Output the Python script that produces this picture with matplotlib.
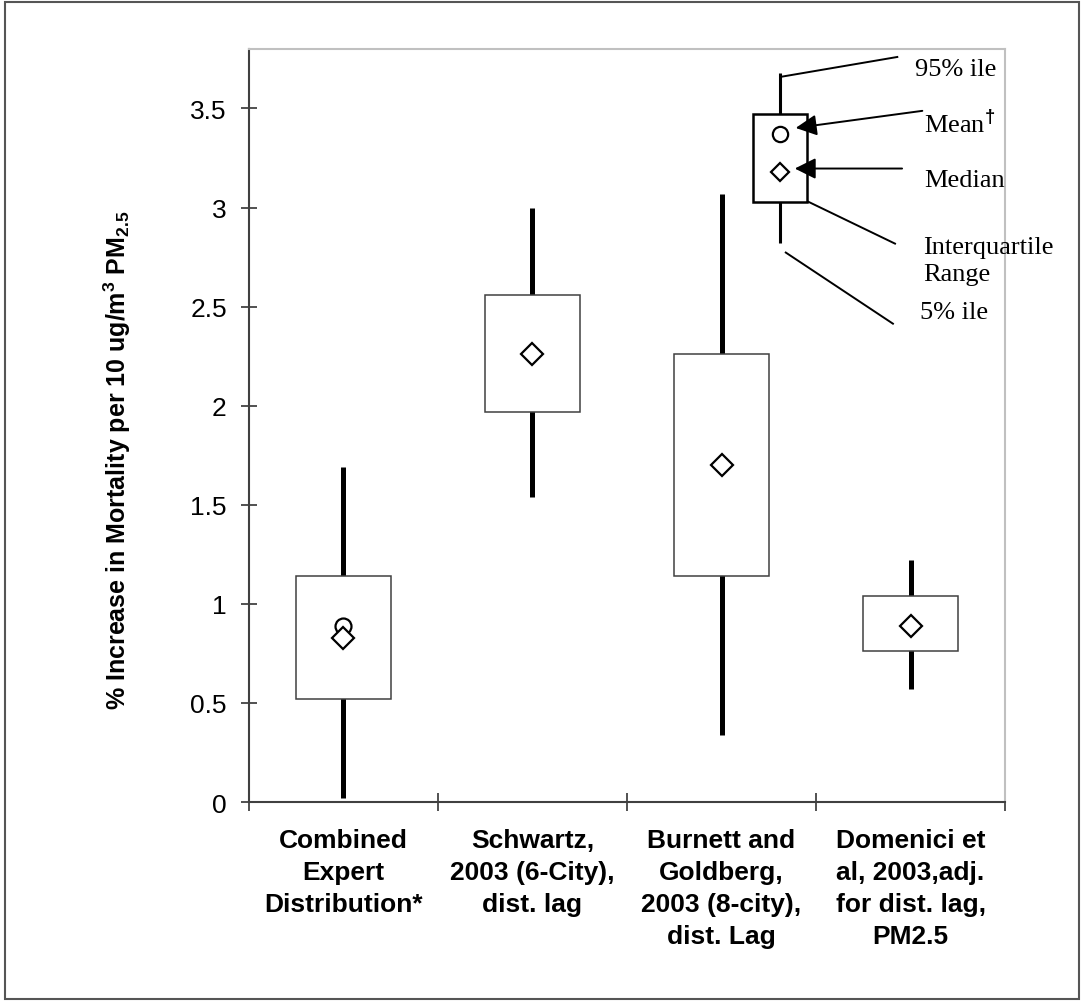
import numpy as np
import matplotlib
matplotlib.use("Agg")
import matplotlib.pyplot as plt
from matplotlib.patches import Rectangle

plt.rcParams['font.family'] = ['Liberation Sans', 'DejaVu Sans']
plt.rcParams['mathtext.fontset'] = 'custom'
plt.rcParams['mathtext.rm'] = 'Liberation Sans:bold'
plt.rcParams['mathtext.bf'] = 'Liberation Sans:bold'
plt.rcParams['mathtext.default'] = 'bf'

# study estimates (% increase in mortality per 10 ug/m3 PM2.5)
studies = ["Combined\nExpert\nDistribution*",
           "Schwartz,\n2003 (6-City),\ndist. lag",
           "Burnett and\nGoldberg,\n2003 (8-city),\ndist. Lag",
           "Domenici et\nal, 2003,adj.\nfor dist. lag,\nPM2.5"]
p05 = [0.02, 1.54, 0.34, 0.57]
p25 = [0.52, 1.97, 1.14, 0.76]
p50 = [0.83, 2.26, 1.70, 0.89]
p75 = [1.14, 2.56, 2.26, 1.04]
p95 = [1.69, 3.00, 3.07, 1.22]
means = [0.89, None, None, None]

# key box values
key_x = 2.81
key_p05, key_p25, key_p50, key_p75, key_p95 = 2.82, 3.03, 3.18, 3.47, 3.68
key_mean = 3.37

fig = plt.figure(figsize=(10.83, 10.03), dpi=100)
ax = fig.add_axes([0.2299, 0.1994, 0.6981, 0.7507])

fig.patches.append(Rectangle((0.005, 0.003), 0.991, 0.994, transform=fig.transFigure,
                             fill=False, edgecolor='#555555', lw=1.5))

box_w = 0.5
for i in range(len(studies)):
    x = i + 0.5
    ax.plot([x, x], [p05[i], p95[i]], color='black', lw=3.6, solid_capstyle='butt', zorder=1)
    ax.add_patch(Rectangle((x - box_w / 2, p25[i]), box_w, p75[i] - p25[i],
                           facecolor='white', edgecolor='#404040', lw=1.1, zorder=2))
    if means[i] is not None:
        ax.plot(x, means[i], marker='o', ms=11.5, mfc='none', mec='black', mew=1.6, zorder=3)
    ax.plot(x, p50[i], marker='D', ms=11, mfc='white', mec='black', mew=1.6, zorder=4)

# key explaining the box symbols
kw = 0.285
ax.plot([key_x, key_x], [key_p05, key_p95], color='black', lw=2.2, solid_capstyle='butt', zorder=1)
ax.add_patch(Rectangle((key_x - kw / 2, key_p25), kw, key_p75 - key_p25,
                       facecolor='white', edgecolor='black', lw=1.8, zorder=2))
ax.plot(key_x, key_mean, marker='o', ms=11, mfc='none', mec='black', mew=1.6, zorder=3)
ax.plot(key_x, key_p50, marker='D', ms=9.5, mfc='white', mec='black', mew=1.6, zorder=3)

serif = dict(family='Liberation Serif', fontsize=19, color='black', clip_on=False)
ax.plot([2.815, 3.43], [3.66, 3.76], color='black', lw=1.4, clip_on=False)
ax.text(3.524, 3.70, "95% ile", va='center', ha='left', **serif)

ax.annotate("", xy=(2.878, 3.40), xytext=(3.577, 3.49),
            arrowprops=dict(arrowstyle='-|>', color='black', lw=1.4, mutation_scale=32),
            annotation_clip=False)
ax.text(3.571, 3.425, "Mean$^{\\dagger}$", va='center', ha='left', **serif)

ax.annotate("", xy=(2.873, 3.197), xytext=(3.47, 3.197),
            arrowprops=dict(arrowstyle='-|>', color='black', lw=1.4, mutation_scale=32),
            annotation_clip=False)
ax.text(3.571, 3.14, "Median", va='center', ha='left', **serif)

ax.plot([2.958, 3.418], [3.03, 2.818], color='black', lw=1.4, clip_on=False)
ax.text(3.566, 2.735, "Interquartile\nRange", va='center', ha='left', linespacing=1.3, **serif)

ax.plot([2.84, 3.407], [2.773, 2.414], color='black', lw=1.4, clip_on=False)
ax.text(3.55, 2.475, "5% ile", va='center', ha='left', **serif)

ax.set_xlim(0, 4)
ax.set_ylim(0, 3.8)
ax.set_yticks(np.arange(0, 3.51, 0.5))
ax.set_yticklabels(["0", "0.5", "1", "1.5", "2", "2.5", "3", "3.5"])
ax.tick_params(axis='y', direction='inout', length=12, width=1.2, labelsize=19, pad=10, color='#333333')

ax.set_xticks(np.arange(0, 5, 1))
ax.set_xticklabels([])
ax.set_xticks(np.arange(0.5, 4, 1), minor=True)
ax.set_xticklabels(studies, minor=True, fontsize=19, fontweight='bold', linespacing=1.42, va='top')
ax.tick_params(axis='x', which='major', direction='inout', length=13, width=1.2, color='#333333')
ax.tick_params(axis='x', which='minor', length=0, pad=19)

ax.spines['left'].set_color('#404040')
ax.spines['bottom'].set_color('#404040')
ax.spines['left'].set_linewidth(1.5)
ax.spines['bottom'].set_linewidth(1.5)
ax.spines['top'].set_color('#c0c0c0')
ax.spines['right'].set_color('#c0c0c0')
ax.spines['top'].set_linewidth(1.5)
ax.spines['right'].set_linewidth(1.5)

fig.text(117 / 1083, 1 - 460 / 1003, "% Increase in Mortality per 10 ug/m$^{3}$ PM$_{2.5}$",
         rotation=90, ha='center', va='center', fontsize=18, fontweight='bold')

fig.savefig("out.png", dpi=100)
